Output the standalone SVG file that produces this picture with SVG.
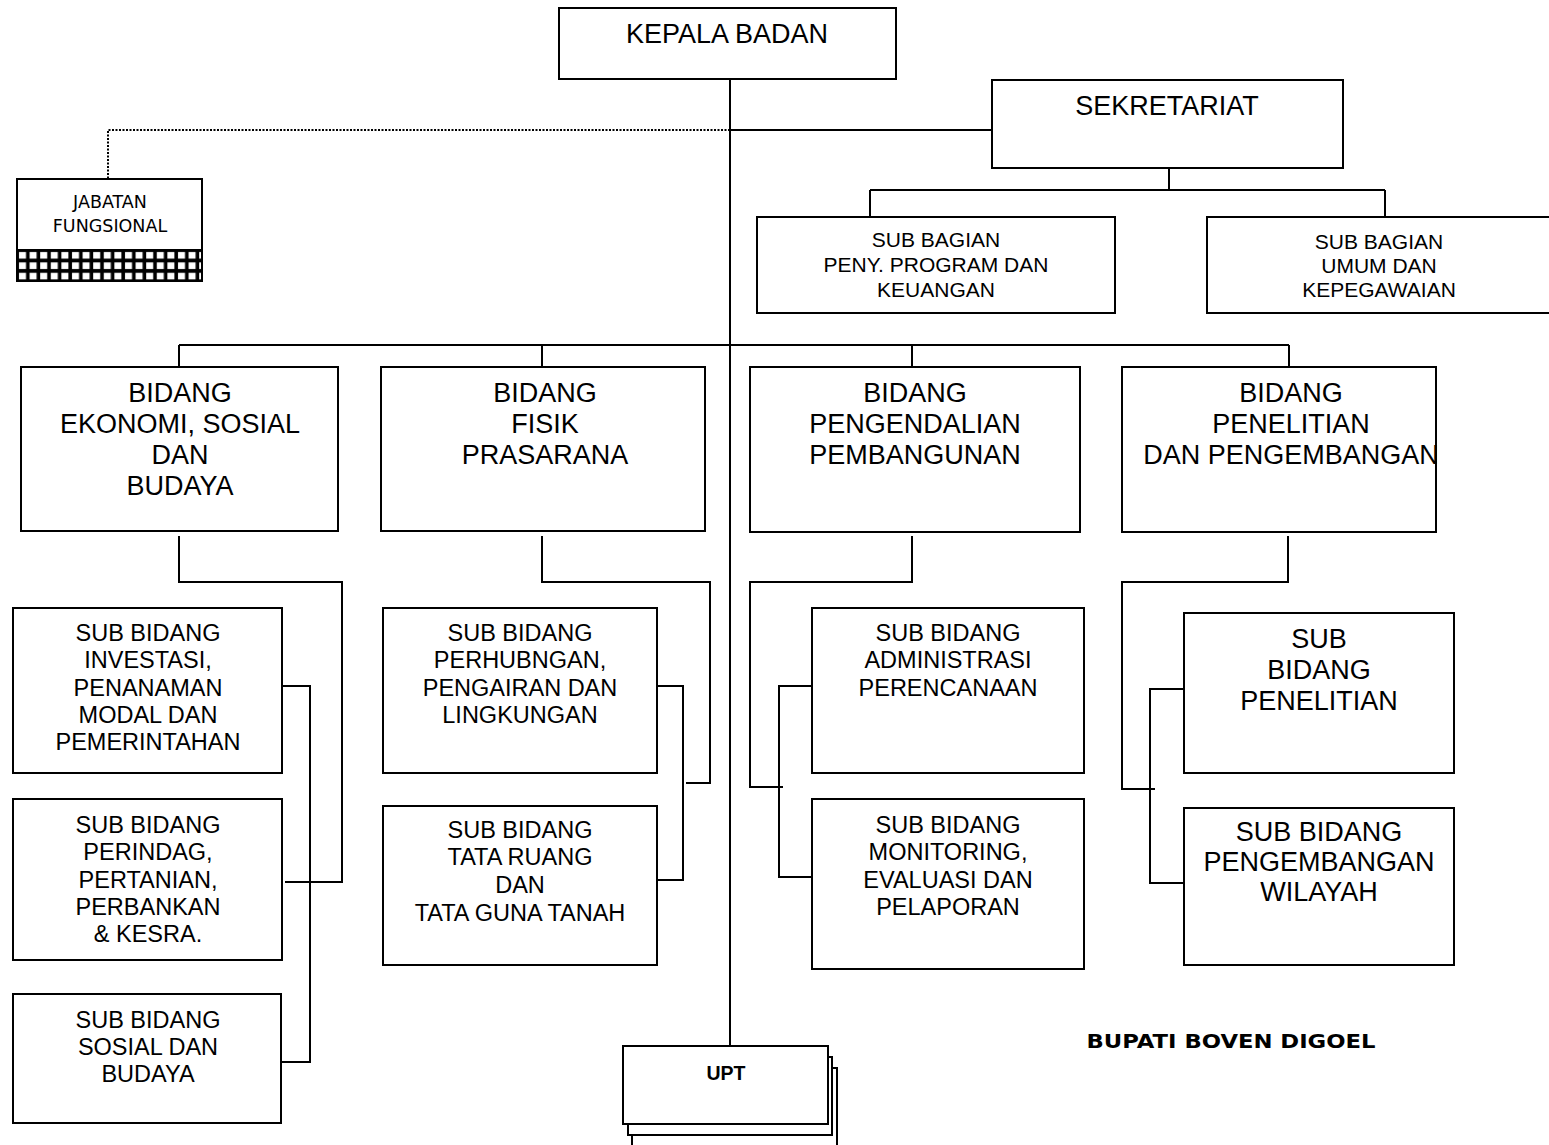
<svg xmlns="http://www.w3.org/2000/svg" width="1549" height="1145" viewBox="0 0 1549 1145">
<defs>
<style>
.box{fill:#fff;stroke:#000;stroke-width:2}
.ln{fill:none;stroke:#000;stroke-width:2}
.dot{fill:none;stroke:#000;stroke-width:2;stroke-dasharray:2 1.5}
text{font-family:"Liberation Sans",Arial,sans-serif;fill:#000;text-anchor:middle;dominant-baseline:central}
.t24{font-size:27px}
.t20{font-size:23.5px}
.t17{font-size:21px}
.dj{font-family:"DejaVu Sans",Tahoma,sans-serif;font-size:17.5px}
</style>
<pattern id="grid" x="17" y="250" width="10.6" height="10.4" patternUnits="userSpaceOnUse">
<rect width="10.6" height="10.4" fill="#000"/>
<rect x="2" y="2" width="7" height="6.6" fill="#fff"/>
</pattern>
</defs>
<rect width="1549" height="1145" fill="#fff"/>
<g id="connectors">
<path class="ln" d="M730 79V1046"/>
<path class="ln" d="M730 130H992"/>
<path class="dot" d="M730 130H108V179"/>
<path class="ln" d="M1169 168V190M870 190H1385M870 190V217M1385 190V217"/>
<path class="ln" d="M179 345H1289M179 345V367M542 345V367M912 345V367M1289 345V367"/>
<path class="ln" d="M179 536V582H342V882H285"/>
<path class="ln" d="M282 686H310V1062H281"/>
<path class="ln" d="M542 536V582H710V783H686"/>
<path class="ln" d="M657 686H683V880H657"/>
<path class="ln" d="M912 536V582H750V787H783"/>
<path class="ln" d="M812 686H779V877H812"/>
<path class="ln" d="M1288 536V582H1122V789H1155"/>
<path class="ln" d="M1184 689H1150V883H1184"/>
</g>
<g id="kepala"><rect class="box" x="559" y="8" width="337" height="71"/><text class="t24" x="727" y="34">KEPALA BADAN</text></g>
<g id="sekretariat"><rect class="box" x="992" y="80" width="351" height="88"/><text class="t24" x="1167" y="106">SEKRETARIAT</text></g>
<g id="jabatan"><rect class="box" x="17" y="179" width="185" height="102"/><rect x="17" y="250" width="185" height="31" fill="url(#grid)" stroke="#000" stroke-width="2"/><text class="dj" x="110" y="202">JABATAN</text><text class="dj" x="110" y="226">FUNGSIONAL</text></g>
<g id="subbag1"><rect class="box" x="757" y="217" width="358" height="96"/><text class="t17" x="936" y="239">SUB BAGIAN</text><text class="t17" x="936" y="264">PENY. PROGRAM DAN</text><text class="t17" x="936" y="289">KEUANGAN</text></g>
<g id="subbag2"><rect class="box" x="1207" y="217" width="345" height="96"/><text class="t17" x="1379" y="241">SUB BAGIAN</text><text class="t17" x="1379" y="265">UMUM DAN</text><text class="t17" x="1379" y="289">KEPEGAWAIAN</text></g>
<g id="bidang1"><rect class="box" x="21" y="367" width="317" height="164"/><text class="t24" x="180" y="393">BIDANG</text><text class="t24" x="180" y="424">EKONOMI, SOSIAL</text><text class="t24" x="180" y="455">DAN</text><text class="t24" x="180" y="486">BUDAYA</text></g>
<g id="bidang2"><rect class="box" x="381" y="367" width="324" height="164"/><text class="t24" x="545" y="393">BIDANG</text><text class="t24" x="545" y="424">FISIK</text><text class="t24" x="545" y="455">PRASARANA</text></g>
<g id="bidang3"><rect class="box" x="750" y="367" width="330" height="165"/><text class="t24" x="915" y="393">BIDANG</text><text class="t24" x="915" y="424">PENGENDALIAN</text><text class="t24" x="915" y="455">PEMBANGUNAN</text></g>
<g id="bidang4"><rect class="box" x="1122" y="367" width="314" height="165"/><text class="t24" x="1291" y="393">BIDANG</text><text class="t24" x="1291" y="424">PENELITIAN</text><text class="t24" x="1291" y="455">DAN PENGEMBANGAN</text></g>
<g id="sb-investasi"><rect class="box" x="13" y="608" width="269" height="165"/><text class="t20" x="148" y="633">SUB BIDANG</text><text class="t20" x="148" y="660">INVESTASI,</text><text class="t20" x="148" y="688">PENANAMAN</text><text class="t20" x="148" y="715">MODAL DAN</text><text class="t20" x="148" y="742">PEMERINTAHAN</text></g>
<g id="sb-perindag"><rect class="box" x="13" y="799" width="269" height="161"/><text class="t20" x="148" y="825">SUB BIDANG</text><text class="t20" x="148" y="852">PERINDAG,</text><text class="t20" x="148" y="880">PERTANIAN,</text><text class="t20" x="148" y="907">PERBANKAN</text><text class="t20" x="148" y="934">&amp; KESRA.</text></g>
<g id="sb-sosial"><rect class="box" x="13" y="994" width="268" height="129"/><text class="t20" x="148" y="1020">SUB BIDANG</text><text class="t20" x="148" y="1047">SOSIAL DAN</text><text class="t20" x="148" y="1074">BUDAYA</text></g>
<g id="sb-perhubungan"><rect class="box" x="383" y="608" width="274" height="165"/><text class="t20" x="520" y="633">SUB BIDANG</text><text class="t20" x="520" y="660">PERHUBNGAN,</text><text class="t20" x="520" y="688">PENGAIRAN DAN</text><text class="t20" x="520" y="715">LINGKUNGAN</text></g>
<g id="sb-tataruang"><rect class="box" x="383" y="806" width="274" height="159"/><text class="t20" x="520" y="830">SUB BIDANG</text><text class="t20" x="520" y="857">TATA RUANG</text><text class="t20" x="520" y="885">DAN</text><text class="t20" x="520" y="913">TATA GUNA TANAH</text></g>
<g id="sb-administrasi"><rect class="box" x="812" y="608" width="272" height="165"/><text class="t20" x="948" y="633">SUB BIDANG</text><text class="t20" x="948" y="660">ADMINISTRASI</text><text class="t20" x="948" y="688">PERENCANAAN</text></g>
<g id="sb-monitoring"><rect class="box" x="812" y="799" width="272" height="170"/><text class="t20" x="948" y="825">SUB BIDANG</text><text class="t20" x="948" y="852">MONITORING,</text><text class="t20" x="948" y="880">EVALUASI DAN</text><text class="t20" x="948" y="907">PELAPORAN</text></g>
<g id="sb-penelitian"><rect class="box" x="1184" y="613" width="270" height="160"/><text class="t24" x="1319" y="639">SUB</text><text class="t24" x="1319" y="670">BIDANG</text><text class="t24" x="1319" y="701">PENELITIAN</text></g>
<g id="sb-wilayah"><rect class="box" x="1184" y="808" width="270" height="157"/><text class="t24" x="1319" y="832">SUB BIDANG</text><text class="t24" x="1319" y="862">PENGEMBANGAN</text><text class="t24" x="1319" y="892">WILAYAH</text></g>
<g id="upt">
<rect class="box" x="632" y="1068" width="205" height="90"/>
<rect class="box" x="628" y="1057" width="204" height="78"/>
<rect class="box" x="623" y="1046" width="205" height="78"/>
<text x="726" y="1073" style="font-size:19.5px;font-weight:bold">UPT</text>
</g>
<g id="bupati"><text x="1231" y="1041" style="font-family:'DejaVu Sans',Tahoma,sans-serif;font-size:20px;font-weight:bold" textLength="289" lengthAdjust="spacingAndGlyphs">BUPATI BOVEN DIGOEL</text></g>
</svg>
